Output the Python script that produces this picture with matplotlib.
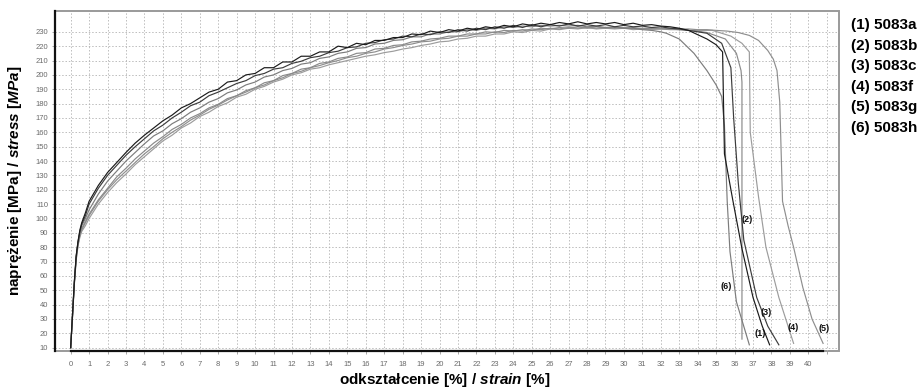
import matplotlib
matplotlib.use('Agg')
import matplotlib.pyplot as plt
from matplotlib.patches import Rectangle

plt.rcParams['font.family'] = ['Liberation Sans', 'DejaVu Sans']
plt.rcParams['mathtext.fontset'] = 'custom'
plt.rcParams['mathtext.it'] = 'Liberation Sans:italic:bold'
plt.rcParams['mathtext.rm'] = 'Liberation Sans:bold'
plt.rcParams['mathtext.bf'] = 'Liberation Sans:bold'

# ---------------- data ----------------
labels = ['(1) 5083a', '(2) 5083b', '(3) 5083c', '(4) 5083f', '(5) 5083g', '(6) 5083h']
short_labels = ['(1)', '(2)', '(3)', '(4)', '(5)', '(6)']

elastic_strain = [0.0, 0.1, 0.2, 0.3, 0.4, 0.5, 0.6, 0.8]
hard_strain = [1.0, 1.5, 2.0, 2.5, 3.0, 3.5, 4.0, 4.5, 5.0, 5.5, 6.0, 6.5, 7.0, 7.5, 8.0,
               8.5, 9.0, 9.5, 10.0, 10.5, 11.0, 11.5, 12.0, 12.5, 13.0, 13.5, 14.0, 14.5,
               15.0, 15.5, 16.0, 16.5, 17.0, 17.5, 18.0, 18.5, 19.0, 19.5, 20.0, 20.5,
               21.0, 21.5, 22.0, 22.5, 23.0, 23.5, 24.0, 24.5, 25.0, 25.5, 26.0, 26.5,
               27.0, 27.5, 28.0, 28.5, 29.0, 29.5, 30.0, 30.5, 31.0, 31.5, 32.0, 32.5,
               33.0, 33.5, 34.0, 34.5, 35.0]

# curve (1) 5083a
el_1 = [10, 33, 56, 74, 84, 92, 97, 104]
hard_1 = [112, 123, 132, 139, 146, 152.5, 158, 163, 168, 172, 177, 180, 184, 188, 190,
          195, 196, 200, 201, 205, 205, 209, 209, 213, 213, 216, 216, 220, 219, 222, 221,
          224, 224, 226, 226, 228.5, 228, 230.5, 229.5, 231.5, 230.5, 232.5, 231.5, 233.5,
          232.5, 234.5, 233.5, 235.5, 234.5, 236, 235, 236.5, 235.5, 237, 235.5, 236.5,
          235.5, 236.5, 235, 236, 234.5, 235, 234, 233.5, 232.5, 231]
frac_s_1 = [34.0, 34.5, 35.0, 35.35, 35.45, 35.9, 36.4, 37.0, 37.5, 37.9]
frac_y_1 = [228, 225, 221, 216, 145, 113, 79, 45, 25, 12]

# curve (2) 5083b
el_2 = [10, 32, 55, 72, 82, 89, 93, 98]
hard_2 = [103, 113, 121, 129, 135, 141.5, 147, 152.5, 157, 162, 165.5, 170, 173, 177,
          179.5, 183.5, 185.5, 189, 191, 194.5, 196, 199.5, 201, 204, 205, 208, 209,
          211.5, 212.5, 215, 215.5, 218, 218.5, 220.5, 221, 223, 223.5, 225, 225.5, 227,
          227, 228.5, 228.5, 230, 229.5, 231, 230.5, 231.5, 231, 232.5, 232, 233, 232.5,
          233.5, 232.5, 233.5, 232.5, 233, 232.5, 233, 232, 232.5, 232, 232, 231.5, 231,
          230.5]
frac_s_2 = [34.5, 35.5, 36.1, 36.35, 36.4, 36.4]
frac_y_2 = [229.5, 225, 215, 203, 195, 16]

# curve (3) 5083c
el_3 = [10, 33, 56, 74, 84, 91, 96, 102]
hard_3 = [110, 121, 130, 137, 144, 150, 155.5, 161, 165, 170, 174, 178.5, 181, 185.5,
          188, 191, 194, 196, 199.5, 201, 204, 205, 208, 209.5, 212, 213, 215.5, 216.5,
          219, 219.5, 222, 222.5, 224.5, 225, 227, 226.5, 228.5, 228, 230, 229.5, 231.5,
          230.5, 232.5, 231.5, 233.5, 232.5, 234.5, 233, 235, 233.5, 235, 234, 235.5, 234,
          235, 234, 235, 233.5, 234.5, 233.5, 234, 233, 233.5, 232.5, 232, 231]
frac_s_3 = [34.0, 34.5, 35.3, 35.8, 35.95, 36.2, 36.5, 37.2, 37.8, 38.4]
frac_y_3 = [230, 229, 222, 205, 170, 125, 85, 45, 25, 12]

# curve (4) 5083f
el_4 = [10, 31, 54, 71, 81, 87, 91, 95]
hard_4 = [100, 110, 118, 125, 131, 137.5, 143, 148.5, 154, 158, 163, 166.5, 171, 174,
          178, 180.5, 184.5, 186.5, 190, 192, 195, 197, 200, 201.5, 204, 205, 207, 208.5,
          210, 211.5, 213, 214, 215.5, 216.5, 218, 219, 220.5, 221.5, 223, 223.5, 225,
          225.5, 227, 227, 228.5, 228.5, 230, 229.5, 231, 230.5, 232, 231.5, 232.5, 232,
          233, 232, 232.5, 232, 232.5, 231.5, 232, 231.5, 232, 231.5, 231.5, 231, 231]
frac_s_4 = [34.8, 35.8, 36.4, 36.8, 36.85, 37.3, 37.7, 38.4, 39.2]
frac_y_4 = [231, 227, 222, 216, 160, 115, 80, 45, 13]

# curve (5) 5083g
el_5 = [10, 32, 55, 72, 82, 88, 92, 97]
hard_5 = [102, 112, 120, 127, 133, 139, 145, 150, 155.5, 160, 164, 168.5, 172, 176, 179,
          182.5, 185.5, 188, 191, 193, 196, 198, 201, 202.5, 205, 206.5, 208.5, 210, 212,
          213, 215, 216, 218, 219, 220.5, 221.5, 223, 223.5, 225, 225.5, 227, 227, 228.5,
          228.5, 230, 229.5, 231, 230.5, 232, 231.5, 232.5, 232, 233, 232.5, 233, 232.5,
          233, 232.5, 233, 232.5, 232.5, 232.5, 232.5, 232, 232, 232, 231.5, 231.5, 231]
frac_s_5 = [35.6, 36.2, 36.8, 37.3, 37.8, 38.1, 38.3, 38.45, 38.6, 38.9, 39.2, 39.7, 40.2, 40.8]
frac_y_5 = [230.5, 229.5, 227.5, 224, 217, 211, 203, 181, 112, 95, 80, 52, 30, 13]

# curve (6) 5083h
el_6 = [10, 32, 55, 73, 83, 90, 95, 100]
hard_6 = [106, 117, 126, 133, 140, 146, 152, 157.5, 161, 166, 169.5, 174, 177, 181,
          183.5, 187.5, 189.5, 193, 195, 198.5, 200, 203, 204.5, 207.5, 208.5, 211.5,
          212.5, 215, 216, 218.5, 219, 221.5, 222, 224, 224.5, 226.5, 226.5, 228.5,
          228.5, 230, 230, 231.5, 231, 232.5, 232, 233.5, 233, 234, 233.5, 234.5, 234,
          234.5, 234, 234.5, 233.5, 234, 233, 233.5, 232.5, 232.5, 231.5, 231, 230]
frac_s_6 = [32.3, 33.0, 33.8, 34.5, 35.0, 35.3, 35.45, 35.6, 35.75, 36.1, 36.8]
frac_y_6 = [229, 225, 215, 203, 193, 185, 165, 112, 77, 42, 12]

# curve label positions (strain, stress)
lab_x = [37.38, 36.68, 37.71, 39.17, 40.85, 35.54]
lab_y = [19.6, 99.2, 34.2, 23.8, 23.1, 52.4]

x_ticks = list(range(0, 42))
x_tick_labels = [str(i) for i in range(0, 41)] + ['']
y_ticks = list(range(10, 240, 10))

# ---------------- styling ----------------
colors = ['#1a1a1a', '#8a8a8a', '#3c3c3c', '#9c9c9c', '#8e8e8e', '#7c7c7c']
draw_order = [3, 4, 1, 5, 2, 0]

curves = [
    (el_1, hard_1, frac_s_1, frac_y_1),
    (el_2, hard_2, frac_s_2, frac_y_2),
    (el_3, hard_3, frac_s_3, frac_y_3),
    (el_4, hard_4, frac_s_4, frac_y_4),
    (el_5, hard_5, frac_s_5, frac_y_5),
    (el_6, hard_6, frac_s_6, frac_y_6),
]

fig = plt.figure(figsize=(9.18, 3.9), dpi=100)
ax = fig.add_axes([0.0599, 0.1, 0.854, 0.8718])

for i in draw_order:
    el, hard, fs, fy = curves[i]
    xs = elastic_strain + hard_strain[:len(hard)] + fs
    ys = el + hard + fy
    ax.plot(xs, ys, color=colors[i], lw=0.85, zorder=3)

for i in range(6):
    ax.text(lab_x[i], lab_y[i], short_labels[i], fontsize=6.5, fontweight='bold',
            ha='center', va='center', color='#111111', zorder=4)

ax.set_xlim(-0.85, 41.66)
ax.set_ylim(7.7, 244.5)
ax.set_xticks(x_ticks)
ax.set_xticklabels(x_tick_labels)
ax.set_yticks(y_ticks)
ax.grid(True, color='#b4b4b4', linestyle=(0, (1.8, 2.2)), linewidth=0.6, zorder=0)
ax.tick_params(axis='both', labelsize=5.5, labelcolor='#6a6a6a', length=2,
               color='#9a9a9a', width=0.6)
ax.tick_params(axis='x', pad=5)
ax.tick_params(axis='y', pad=3)

for s in ['top', 'right']:
    ax.spines[s].set_visible(False)
ax.add_patch(Rectangle((0, 0), 1, 1, transform=ax.transAxes, fill=False,
                       edgecolor='#9a9a9a', lw=1.4, zorder=1, clip_on=False))
ax.spines['left'].set_color('#111111')
ax.spines['left'].set_linewidth(1.6)
ax.spines['left'].set_zorder(5)
ax.spines['bottom'].set_color('#111111')
ax.spines['bottom'].set_linewidth(1.6)
ax.spines['bottom'].set_bounds(0, 40.8)
ax.spines['bottom'].set_zorder(5)

fig.text(445 / 918, 1 - 380 / 390, r'odkształcenie [%] / $\mathit{strain\ [\%]}$',
         fontsize=11, fontweight='bold', ha='center', va='center')
fig.text(15 / 918, 1 - 181 / 390, r'naprężenie [MPa] / $\mathit{stress\ [MPa]}$',
         fontsize=11, fontweight='bold', ha='center', va='center', rotation=90)

for i, lab in enumerate(labels):
    fig.text(851 / 918, 1 - (25 + 20.6 * i) / 390, lab, fontsize=11,
             fontweight='bold', ha='left', va='center')

fig.savefig('out.png', dpi=100)
